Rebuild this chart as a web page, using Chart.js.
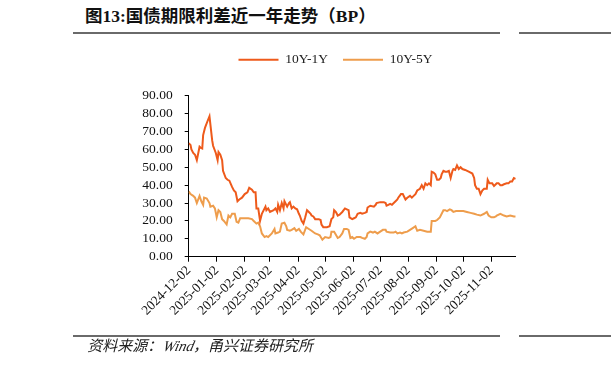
<!DOCTYPE html>
<html>
<head>
<meta charset="utf-8">
<script src="https://cdn.jsdelivr.net/npm/chart.js@4/dist/chart.umd.min.js"></script>
<style>
  html, body { margin: 0; padding: 0; background: #fff; }
  body { width: 611px; height: 369px; position: relative; overflow: hidden; }
  #c { position: absolute; left: 0; top: 0; }
  .title { position: absolute; left: 85px; top: 4px; font: bold 17.5px "Liberation Serif", "Noto Sans CJK SC", serif; color: #111; white-space: nowrap; line-height: 24px; }
  .rule { position: absolute; height: 2px; background: #6a6a6a; }
  .source { position: absolute; left: 86px; top: 336px; font: 15px "Liberation Serif", "Noto Sans CJK SC", serif; color: #222; white-space: nowrap; line-height: 20px; transform: skewX(-14deg); transform-origin: left bottom; }
</style>
</head>
<body>
<div class="title">图13:国债期限利差近一年走势（BP）</div>
<div class="rule" style="left:73px;width:427px;top:32px;"></div>
<div class="rule" style="left:519px;width:92px;top:32px;"></div>
<canvas id="c" width="611" height="369"></canvas>
<div class="rule" style="left:73px;width:427px;top:335px;"></div>
<div class="rule" style="left:519px;width:92px;top:335px;"></div>
<div class="source">资料来源：<i>Wind</i>，甬兴证券研究所</div>
<script>
// ---- data ----
const seriesNames = ['10Y-1Y', '10Y-5Y'];

const dates1Y = [
  '2024-12-02','2024-12-04','2024-12-05','2024-12-07','2024-12-09','2024-12-11','2024-12-14','2024-12-15','2024-12-17','2024-12-18','2024-12-20','2024-12-23','2024-12-25','2024-12-28','2024-12-29',
  '2025-01-01','2025-01-03','2025-01-04','2025-01-06','2025-01-08','2025-01-09','2025-01-12','2025-01-14','2025-01-16','2025-01-19','2025-01-21','2025-01-23','2025-01-25','2025-01-27','2025-01-30',
  '2025-02-02','2025-02-05','2025-02-07','2025-02-10','2025-02-12','2025-02-14','2025-02-15','2025-02-17','2025-02-19','2025-02-21','2025-02-24','2025-02-25','2025-02-26','2025-02-28',
  '2025-03-02','2025-03-06','2025-03-08','2025-03-10','2025-03-11','2025-03-13','2025-03-15','2025-03-17','2025-03-18','2025-03-21','2025-03-23','2025-03-24','2025-03-26','2025-03-28','2025-03-30',
  '2025-04-01','2025-04-03','2025-04-04','2025-04-06','2025-04-08','2025-04-10','2025-04-12','2025-04-14','2025-04-16','2025-04-17','2025-04-19','2025-04-21','2025-04-25','2025-04-27','2025-04-28','2025-04-30',
  '2025-05-04','2025-05-07','2025-05-09','2025-05-11','2025-05-12','2025-05-14','2025-05-16','2025-05-18','2025-05-21','2025-05-24','2025-05-26','2025-05-28','2025-05-29',
  '2025-06-01','2025-06-03','2025-06-05','2025-06-07','2025-06-10','2025-06-12','2025-06-15','2025-06-17','2025-06-18','2025-06-21','2025-06-25','2025-06-27','2025-06-28',
  '2025-07-02','2025-07-06','2025-07-08','2025-07-09','2025-07-11','2025-07-13','2025-07-15','2025-07-17','2025-07-19','2025-07-21','2025-07-22','2025-07-25','2025-07-27','2025-07-30',
  '2025-08-01','2025-08-04','2025-08-06','2025-08-08','2025-08-10','2025-08-12','2025-08-15','2025-08-17','2025-08-19','2025-08-21','2025-08-23','2025-08-25','2025-08-27','2025-08-28','2025-08-30',
  '2025-09-01','2025-09-03','2025-09-05','2025-09-07','2025-09-08','2025-09-10','2025-09-12','2025-09-14','2025-09-16','2025-09-18','2025-09-20','2025-09-21','2025-09-23','2025-09-25','2025-09-27','2025-09-29',
  '2025-10-01','2025-10-04','2025-10-08','2025-10-12','2025-10-14','2025-10-15','2025-10-17','2025-10-19','2025-10-21','2025-10-23','2025-10-25','2025-10-28','2025-10-29','2025-10-31',
  '2025-11-03','2025-11-05','2025-11-07','2025-11-08','2025-11-10','2025-11-12','2025-11-14','2025-11-16','2025-11-19','2025-11-21','2025-11-23','2025-11-25','2025-11-27','2025-11-29'
];
const values1Y = [
  63.5,62.5,60,58,57,54,61.5,61,60.5,68,72,76,78.5,65,62,
  58,54,58.5,57,54,48,44,43,42.5,39,37,36,31,32,33,
  35,36,38.5,37.5,36,36,27,27,20,24,27,28,26,27,
  25,26,27,25,29,26,30,27,31,28,30,30.5,27,28,27,
  26.5,24,23,20,18.5,22,26,25,24,23,22.5,21,21,20.5,18,16.5,
  16.5,17,21,22,26,25,23,23.5,25,27,26.5,26,22,
  21,21.5,22,24,24.5,24,24.5,25,27.5,28.5,28,29,30,
  30.5,30.5,30,28.5,29,29.5,29,30,31,32,33,35,35,32,
  33,34,33,34,35,37,38,40,38,41,40,41,40,47.5,47,
  46,43,43,44,46,48,47.5,47.5,48,44,48,49,48.5,51,49,50,
  49,48.5,47.5,46.5,44,40,38,38,35,37,38,38,43,41,
  41,39.5,40.5,41,41,40,40,40.5,41,41,42,42,44,43.5
];

const dates5Y = [
  '2024-12-02','2024-12-04','2024-12-07','2024-12-09','2024-12-11','2024-12-14','2024-12-16','2024-12-18','2024-12-19','2024-12-22','2024-12-25','2024-12-26','2024-12-29','2024-12-31',
  '2025-01-02','2025-01-04','2025-01-06','2025-01-08','2025-01-10','2025-01-13','2025-01-15','2025-01-17','2025-01-19','2025-01-22','2025-01-24','2025-01-26','2025-01-28',
  '2025-02-02','2025-02-06','2025-02-10','2025-02-12','2025-02-15','2025-02-17','2025-02-19','2025-02-21','2025-02-24','2025-02-26','2025-02-28',
  '2025-03-04','2025-03-07','2025-03-08','2025-03-11','2025-03-13','2025-03-15','2025-03-18','2025-03-20','2025-03-21','2025-03-24','2025-03-26','2025-03-29','2025-03-31',
  '2025-04-03','2025-04-05','2025-04-08','2025-04-11','2025-04-14','2025-04-17','2025-04-21','2025-04-24','2025-04-26','2025-04-29',
  '2025-05-02','2025-05-06','2025-05-08','2025-05-09','2025-05-12','2025-05-16','2025-05-18','2025-05-21','2025-05-23','2025-05-26','2025-05-28','2025-05-30',
  '2025-06-01','2025-06-03','2025-06-06','2025-06-10','2025-06-12','2025-06-15','2025-06-17','2025-06-18','2025-06-21','2025-06-24','2025-06-26','2025-06-29',
  '2025-07-02','2025-07-05','2025-07-08','2025-07-09','2025-07-13','2025-07-17','2025-07-19','2025-07-21','2025-07-24','2025-07-26','2025-07-28',
  '2025-08-01','2025-08-04','2025-08-07','2025-08-10','2025-08-12','2025-08-15','2025-08-19','2025-08-23','2025-08-27','2025-08-28',
  '2025-09-01','2025-09-03','2025-09-06','2025-09-10','2025-09-12','2025-09-14','2025-09-17','2025-09-19','2025-09-21','2025-09-24','2025-09-29',
  '2025-10-02','2025-10-06','2025-10-10','2025-10-14','2025-10-17','2025-10-21','2025-10-25','2025-10-28','2025-10-30',
  '2025-11-02','2025-11-05','2025-11-07','2025-11-08','2025-11-12','2025-11-16','2025-11-19','2025-11-23','2025-11-27','2025-11-29'
];
const values5Y = [
  36.5,35,34,33,30,34,31,29,33,32.5,30,28,28.5,27,
  22,26,25,21,20,18,23,22,24,24,19.5,19,21.5,
  21.5,21.5,21,20,18.5,19,17,13,11,11.5,11,
  13,15.5,13,13.5,14,18.5,19,17,15,14.5,15,16,14.5,
  15.5,14,12.5,16.5,15.5,14.5,13,12.5,12,9.5,
  11,10.5,11,14,14,10.5,11,13,15.5,15.5,15,10.5,
  11,10,11,11,10.5,10,11,13,14,13.5,14,13,
  14,15,15,14,13.5,13.5,14,13,13.5,13,13.5,
  14,15,16,17,14.5,15,14.5,14,14,20,
  20,20.5,22,26,26,25.5,26.5,26,25,25.5,25.5,
  25.5,25,24.5,24,23.5,23,24,25,23,
  22,22,22.5,23,24,23,22.5,23,22.5,22.5
];

const tickLabels = ['2024-12-02','2025-01-02','2025-02-02','2025-03-02','2025-04-02','2025-05-02',
  '2025-06-02','2025-07-02','2025-08-02','2025-09-02','2025-10-02','2025-11-02'];
const yTicks = [0, 10, 20, 30, 40, 50, 60, 70, 80, 90];

// ---- helpers ----
const START = Date.UTC(2024, 11, 2);
function dayOffset(s) {
  const p = s.split('-').map(Number);
  return (Date.UTC(p[0], p[1] - 1, p[2]) - START) / 86400000;
}
function toPoints(dates, vals) { return dates.map((d, i) => ({ x: dayOffset(d), y: vals[i] })); }

const SERIF = '"Liberation Serif", "Times New Roman", serif';
const LEGEND_H = 57.7;
const LEGEND_SHIFT = 10.8;

const legendPlugin = {
  id: 'legendTweak',
  beforeUpdate(chart) {
    const lg = chart.legend;
    if (lg && !lg._fixedH) {
      const f = lg.fit;
      lg.fit = function () { f.call(this); this.height = LEGEND_H; };
      lg._fixedH = true;
    }
  },
  afterLayout(chart) {
    const lg = chart.legend;
    if (lg) { lg.left += LEGEND_SHIFT; lg.right += LEGEND_SHIFT; }
  }
};

new Chart(document.getElementById('c'), {
  type: 'line',
  data: {
    datasets: [
      { label: seriesNames[0], data: toPoints(dates1Y, values1Y), borderColor: '#EE5A1B', backgroundColor: '#EE5A1B',
        borderWidth: 2, pointRadius: 0, tension: 0 },
      { label: seriesNames[1], data: toPoints(dates5Y, values5Y), borderColor: '#EE9D4C', backgroundColor: '#EE9D4C',
        borderWidth: 2, pointRadius: 0, tension: 0 }
    ]
  },
  options: {
    responsive: false,
    animation: false,
    devicePixelRatio: 1,
    layout: { padding: { left: 133.7, right: 95.3, top: 38, bottom: 52.3 } },
    plugins: {
      legend: {
        position: 'top',
        labels: {
          usePointStyle: true, pointStyle: 'line', pointStyleWidth: 40, boxHeight: 13,
          padding: 15, color: '#222', font: { family: SERIF, size: 13.5 }
        }
      },
      tooltip: { enabled: false }
    },
    scales: {
      x: {
        type: 'linear',
        min: 0,
        max: dayOffset(dates1Y[dates1Y.length - 1]),
        afterBuildTicks(scale) { scale.ticks = tickLabels.map(s => ({ value: dayOffset(s) })); },
        afterFit(scale) { scale.height = 60; },
        ticks: {
          autoSkip: false, minRotation: 45, maxRotation: 45, padding: 1,
          color: '#111', font: { family: SERIF, size: 13.5 },
          callback: (v, i) => tickLabels[i]
        },
        grid: { drawOnChartArea: false, drawTicks: true, tickLength: 5, color: '#000', lineWidth: 1 },
        border: { display: true, color: '#000', width: 1 }
      },
      y: {
        min: 0, max: 90,
        afterBuildTicks(scale) { scale.ticks = yTicks.map(v => ({ value: v })); },
        afterFit(scale) { scale.width = 55; },
        ticks: {
          autoSkip: false, padding: 12, color: '#111', font: { family: SERIF, size: 13.5 },
          callback: v => Number(v).toFixed(2)
        },
        grid: { drawOnChartArea: false, drawTicks: true, tickLength: 4, color: '#000', lineWidth: 1 },
        border: { display: true, color: '#000', width: 1 }
      }
    }
  },
  plugins: [legendPlugin]
});
</script>
</body>
</html>
